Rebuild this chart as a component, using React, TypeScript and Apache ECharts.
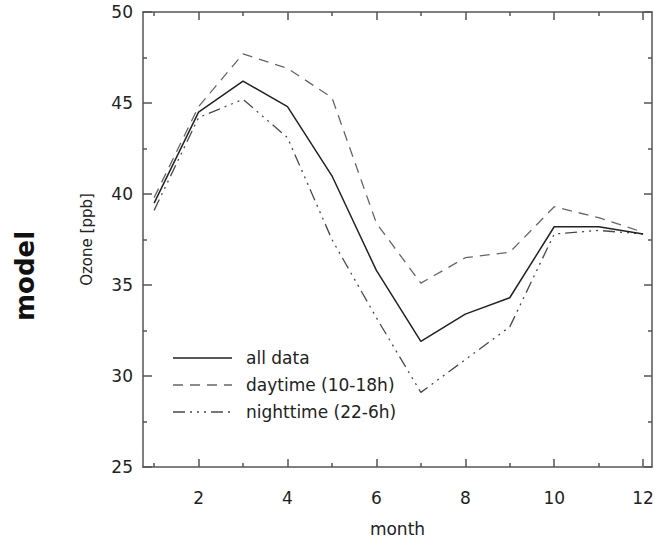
import React, { useEffect, useRef } from "react";
import * as echarts from "echarts";

const months = [1, 2, 3, 4, 5, 6, 7, 8, 9, 10, 11, 12];
const allData = [39.5, 44.5, 46.2, 44.8, 41.0, 35.8, 31.9, 33.4, 34.3, 38.2, 38.2, 37.8];
const daytime = [39.8, 44.8, 47.7, 46.9, 45.3, 38.4, 35.1, 36.5, 36.8, 39.3, 38.7, 37.9];
const nighttime = [39.1, 44.2, 45.2, 43.1, 37.5, 33.2, 29.1, 30.9, 32.7, 37.8, 38.0, 37.8];
const xMajorTicks = [2, 4, 6, 8, 10, 12];
const xMinorTicks = [1, 3, 5, 7, 9, 11];
const seriesNames = ["all data", "daytime (10-18h)", "nighttime (22-6h)"];

const FONT = "DejaVu Sans";
const AXIS_COLOR = "#555";
const TEXT_COLOR = "#222";

export default function App() {
  const ref = useRef<HTMLDivElement>(null);
  useEffect(() => {
    if (!ref.current) return;
    const chart = echarts.init(ref.current, undefined, { renderer: "svg" });
    const xBase = {
      type: "value" as const,
      min: 0.75,
      max: 12.2,
      splitLine: { show: false },
    };
    const yBase = {
      type: "value" as const,
      min: 25,
      max: 50,
      interval: 5,
      splitLine: { show: false },
    };
    const lineStyle = { color: AXIS_COLOR, width: 1.5 };
    const lineStyles = [
      { color: "#222", width: 1.5, type: "solid" as any },
      { color: "#666", width: 1.3, type: [10, 7] as any },
      { color: "#4a4a4a", width: 1.3, type: [12, 5, 2, 5, 2, 5, 2, 5] as any },
    ];
    const seriesData = [allData, daytime, nighttime];
    const legendY = [358, 385, 412];
    chart.setOption({
      animation: false,
      grid: { left: 143, right: 3, top: 12, bottom: 71, containLabel: false, outerBoundsMode: "none" },
      xAxis: [
        {
          ...xBase,
          position: "bottom",
          axisLine: { show: true, lineStyle, onZero: false },
          axisTick: { show: true, inside: true, length: 8, customValues: xMajorTicks, lineStyle },
          axisLabel: {
            customValues: xMajorTicks,
            margin: 22,
            fontFamily: FONT,
            fontSize: 17,
            color: TEXT_COLOR,
          },
          name: "month",
          nameLocation: "middle",
          nameGap: 53,
          nameTextStyle: { fontFamily: FONT, fontSize: 17, color: TEXT_COLOR },
        },
        {
          ...xBase,
          position: "bottom",
          axisLine: { show: false, onZero: false },
          axisTick: { show: true, inside: true, length: 4, customValues: xMinorTicks, lineStyle },
          axisLabel: { show: false },
        },
        {
          ...xBase,
          position: "top",
          axisLine: { show: true, lineStyle, onZero: false },
          axisTick: { show: true, inside: true, length: 8, customValues: xMajorTicks, lineStyle },
          axisLabel: { show: false },
        },
        {
          ...xBase,
          position: "top",
          axisLine: { show: false, onZero: false },
          axisTick: { show: true, inside: true, length: 4, customValues: xMinorTicks, lineStyle },
          axisLabel: { show: false },
        },
      ],
      yAxis: [
        {
          ...yBase,
          position: "left",
          axisLine: { show: true, lineStyle, onZero: false },
          axisTick: { show: true, inside: true, length: 9, lineStyle },
          minorTick: { show: true, splitNumber: 2, length: 4, lineStyle },
          axisLabel: { margin: 10, fontFamily: FONT, fontSize: 17, color: TEXT_COLOR },
          name: "Ozone [ppb]",
          nameLocation: "middle",
          nameGap: 49,
          nameRotate: 90,
          nameTextStyle: { fontFamily: FONT, fontSize: 15, color: TEXT_COLOR },
        },
        {
          ...yBase,
          position: "right",
          axisLine: { show: true, lineStyle, onZero: false },
          axisTick: { show: true, inside: true, length: 8, lineStyle },
          minorTick: { show: true, splitNumber: 2, length: 4, lineStyle },
          axisLabel: { show: false },
        },
      ],
      series: seriesData.map((vals, i) => ({
        type: "line",
        name: seriesNames[i],
        xAxisIndex: 0,
        yAxisIndex: 0,
        showSymbol: false,
        symbol: "none",
        data: months.map((m, j) => [m, vals[j]]),
        lineStyle: lineStyles[i],
        z: 3 - i,
      })),
      graphic: [
        ...legendY.flatMap((y, i) => [
          {
            type: "line",
            shape: { x1: 173, y1: y, x2: 232, y2: y },
            style: {
              stroke: lineStyles[i].color,
              lineWidth: lineStyles[i].width,
              lineDash: i === 0 ? null : lineStyles[i].type,
            },
          },
          {
            type: "text",
            x: 246,
            y: y,
            style: {
              text: seriesNames[i],
              fontFamily: FONT,
              fontSize: 17,
              fill: TEXT_COLOR,
              verticalAlign: "middle",
              align: "left",
            },
          },
        ]),
        {
          type: "text",
          x: 25,
          y: 276,
          rotation: Math.PI / 2,
          style: {
            text: "model",
            fontFamily: FONT,
            fontWeight: "bold",
            fontSize: 26,
            fill: "#111",
            align: "center",
            verticalAlign: "middle",
          },
        },
      ],
    });
    return () => chart.dispose();
  }, []);
  return (
    <div
      ref={ref}
      style={{ position: "fixed", left: 0, top: 0, width: 655, height: 538, background: "#fff" }}
    />
  );
}
